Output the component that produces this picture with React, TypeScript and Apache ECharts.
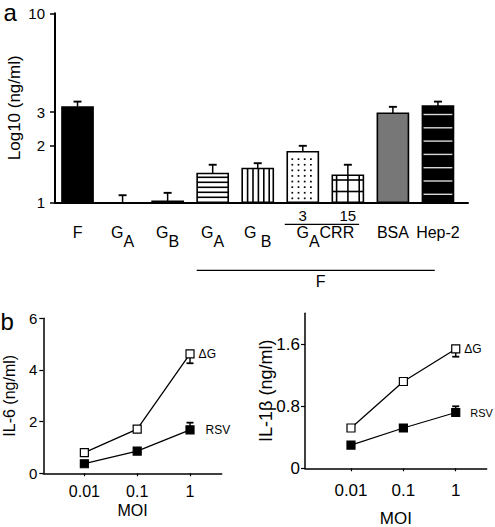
import React, { useEffect, useRef } from 'react';
import * as echarts from 'echarts';

// ---- Panel a data ----
const categories = ['F', 'GA', 'GB', 'F+GA', 'F+GB', 'F+GA CRR 3', 'F+GA CRR 15', 'BSA', 'Hep-2'];
const cytokineValues = [3.19, 1.0, 1.012, 1.42, 1.51, 1.85, 1.39, 2.96, 3.23];
const cytokineErrors = [0.22, 0.09, 0.11, 0.16, 0.1, 0.14, 0.19, 0.24, 0.18];
const logTicks = [1, 2, 3, 10];
const categoryLabels = ['F', 'G_A', 'G_B', 'G_A', 'G _B', 'G_ACRR', 'BSA', 'Hep-2'];
const categoryLabelPos = [0, 1, 2, 3, 4, 5.5, 7, 8];
const crrLabels = ['3', '15'];
const crrLabelPos = [5, 6];
const bracketStart = [4.6, 2.645];
const bracketEnd = [6.25, 7.93];
const bracketLabels = ['', 'F'];

// ---- Panel b data ----
const moi = [0.01, 0.1, 1];
const il6DeltaG = [0.8, 1.71, 4.62];
const il6DeltaGErr = [0, 0, 0.36];
const il6RSV = [0.37, 0.86, 1.68];
const il6RSVErr = [0, 0, 0.28];
const il1bDeltaG = [0.52, 1.12, 1.54];
const il1bDeltaGErr = [0, 0, 0.1];
const il1bRSV = [0.3, 0.52, 0.72];
const il1bRSVErr = [0, 0, 0.08];

const FONT = 'Liberation Sans, Arial, Helvetica, sans-serif';
const BAR_PATTERNS = ['solid', 'plain', 'plain', 'hstripe', 'vstripe', 'dots', 'grid', 'gray', 'blackstripe'];

const richFmt = (s: string) => {
  const parts = s.split('_');
  if (parts.length === 1) return `{g|${s}}`;
  const sub = parts[1][0];
  const rest = parts[1].slice(1);
  return `{g|${parts[0]}}{s|${sub}}` + (rest ? `{g|${rest}}` : '');
};

const fmtNum = (v: number) => String(Number(Number(v).toPrecision(6)));

function renderBar(params: any, api: any) {
  const i = api.value(0);
  const v = api.value(1);
  const top = api.coord([i, v]);
  const base = api.coord([i, 1]);
  const band = api.coord([i + 0.5, 1])[0] - api.coord([i - 0.5, 1])[0];
  const half = band * 0.345;
  const x0 = top[0] - half;
  const x1 = top[0] + half;
  const y0 = top[1];
  const y1 = base[1];
  const h = y1 - y0;
  if (h < 0.5) return { type: 'group', children: [] };
  const pattern = BAR_PATTERNS[params.dataIndex];
  const children: any[] = [];
  let fill = '#fff';
  if (pattern === 'solid' || pattern === 'blackstripe') fill = '#000';
  if (pattern === 'gray') fill = '#777';
  children.push({ type: 'rect', shape: { x: x0, y: y0, width: x1 - x0, height: h }, style: { fill } });
  const line = (ax: number, ay: number, bx: number, by: number, stroke = '#000', lw = 1.6) =>
    children.push({ type: 'line', shape: { x1: ax, y1: ay, x2: bx, y2: by }, style: { stroke, lineWidth: lw } });
  if (pattern === 'hstripe') {
    for (let y = y1 - 5; y > y0 + 2.5; y -= 5) line(x0, y, x1, y);
  } else if (pattern === 'vstripe') {
    for (let x = x0 + 5.4; x < x1 - 2.5; x += 5.4) line(x, y0, x, y1);
  } else if (pattern === 'dots') {
    for (let y = y1 - 4; y > y0 + 2; y -= 5.6) {
      for (let x = x0 + 5; x < x1 - 2; x += 6.2) {
        children.push({ type: 'rect', shape: { x: x - 0.8, y: y - 0.8, width: 1.7, height: 1.7 }, style: { fill: '#000' } });
      }
    }
  } else if (pattern === 'grid') {
    for (let x = x0 + 4.3; x < x1 - 2; x += 11.3) line(x, y0, x, y1);
    for (let y = y1 - 10.8; y > y0 + 2; y -= 11.5) line(x0, y, x1, y);
  } else if (pattern === 'blackstripe') {
    for (let y = y1 - 8; y > y0 + 4; y -= 13.3) line(x0 + 1, y, x1 - 1, y, '#d8d8d8', 1.4);
  }
  children.push({
    type: 'rect',
    shape: { x: x0, y: y0, width: x1 - x0, height: h },
    style: { fill: 'none', stroke: '#000', lineWidth: 1.6 },
  });
  return { type: 'group', children };
}

function renderErr(capHalf: number, lw: number) {
  return (params: any, api: any) => {
    const x = api.value(0);
    const p1 = api.coord([x, api.value(1)]);
    const p2 = api.coord([x, api.value(2)]);
    if (Math.abs(p1[1] - p2[1]) < 0.5) return { type: 'group', children: [] };
    return {
      type: 'group',
      children: [
        { type: 'line', shape: { x1: p1[0], y1: p1[1], x2: p2[0], y2: p2[1] }, style: { stroke: '#000', lineWidth: lw } },
        { type: 'line', shape: { x1: p2[0] - capHalf, y1: p2[1], x2: p2[0] + capHalf, y2: p2[1] }, style: { stroke: '#000', lineWidth: lw + 0.4 } },
      ],
    };
  };
}

const BRACKET_OFFSETS = [22, 68];

function renderBracket(params: any, api: any) {
  const a = api.coord([api.value(0), 1]);
  const b = api.coord([api.value(1), 1]);
  const y = a[1] + BRACKET_OFFSETS[params.dataIndex];
  const children: any[] = [
    { type: 'line', shape: { x1: a[0], y1: y, x2: b[0], y2: y }, style: { stroke: '#000', lineWidth: 1.3 } },
  ];
  const label = bracketLabels[params.dataIndex];
  if (label) {
    children.push({
      type: 'text',
      style: {
        text: label,
        x: (a[0] + b[0]) / 2 + 5,
        y: y + 11,
        align: 'center',
        verticalAlign: 'middle',
        fontSize: 16,
        fontFamily: FONT,
        fill: '#000',
      },
    });
  }
  return { type: 'group', children };
}

const lineSeries = (
  name: string,
  values: number[],
  xAxisIndex: number,
  yAxisIndex: number,
  filled: boolean,
  labelDistance: number,
  labelSize: number
) => ({
  type: 'line',
  name,
  xAxisIndex,
  yAxisIndex,
  z: 3,
  symbol: 'rect',
  symbolSize: 8,
  lineStyle: { color: '#000', width: 1.3 },
  itemStyle: { color: filled ? '#000' : '#fff', borderColor: '#000', borderWidth: 1.2 },
  data: moi.map((m, i) =>
    i === moi.length - 1
      ? {
          value: [m, values[i]],
          label: {
            show: true,
            formatter: name,
            position: 'right',
            distance: labelDistance,
            fontSize: labelSize,
            fontFamily: FONT,
            color: '#000',
          },
        }
      : [m, values[i]]
  ),
});

const errSeries = (values: number[], errs: number[], dir: number, xAxisIndex: number, yAxisIndex: number) => ({
  type: 'custom',
  xAxisIndex,
  yAxisIndex,
  z: 2,
  clip: false,
  renderItem: renderErr(3.5, 1.4),
  data: moi.map((m, i) => [m, values[i], values[i] + dir * errs[i]]),
});

const axisLineStyle = (w: number) => ({ show: true, onZero: false, lineStyle: { color: '#000', width: w } });

export default function App() {
  const ref = useRef<HTMLDivElement>(null);
  useEffect(() => {
    if (!ref.current) return;
    const chart = echarts.init(ref.current, null, { renderer: 'svg' });
    const option: any = {
      animation: false,
      backgroundColor: '#fff',
      textStyle: { fontFamily: FONT, color: '#000' },
      graphic: [
        { type: 'text', style: { text: 'a', x: 3.5, y: 12, verticalAlign: 'middle', fontSize: 24, fontFamily: FONT, fill: '#000' } },
        { type: 'text', style: { text: 'b', x: 0.5, y: 321.7, verticalAlign: 'middle', fontSize: 24, fontFamily: FONT, fill: '#000' } },
      ],
      grid: [
        { left: 55, top: 13.3, width: 413, height: 189, containLabel: false, outerBoundsMode: 'none' },
        { left: 43.3, top: 318.3, width: 178.4, height: 155, containLabel: false, outerBoundsMode: 'none' },
        { left: 305, top: 313.3, width: 181.7, height: 155, containLabel: false, outerBoundsMode: 'none' },
      ],
      xAxis: [
        {
          gridIndex: 0,
          type: 'value',
          min: -0.5,
          max: 8.667,
          axisLine: axisLineStyle(2),
          axisTick: { show: false },
          splitLine: { show: false },
          axisLabel: {
            customValues: categoryLabelPos,
            margin: 22,
            formatter: (v: number) => {
              const k = categoryLabelPos.findIndex((p) => Math.abs(p - v) < 1e-6);
              return k >= 0 ? richFmt(categoryLabels[k]) : '';
            },
            rich: {
              g: { fontSize: 16, lineHeight: 18, verticalAlign: 'top', fontFamily: FONT, color: '#000' },
              s: { fontSize: 16, lineHeight: 18, padding: [9, 0, 0, 0], verticalAlign: 'top', fontFamily: FONT, color: '#000' },
            },
          },
        },
        {
          gridIndex: 0,
          type: 'value',
          position: 'bottom',
          min: -0.5,
          max: 8.667,
          axisLine: { show: false, onZero: false },
          axisTick: { show: false },
          splitLine: { show: false },
          axisLabel: {
            customValues: crrLabelPos,
            margin: 6,
            fontSize: 15,
            color: '#000',
            formatter: (v: number) => {
              const k = crrLabelPos.findIndex((p) => Math.abs(p - v) < 1e-6);
              return k >= 0 ? crrLabels[k] : '';
            },
          },
        },
        {
          gridIndex: 1,
          type: 'log',
          logBase: 10,
          min: 0.00167,
          max: 3.98,
          name: 'MOI',
          nameLocation: 'middle',
          nameGap: 29,
          nameMoveOverlap: false,
          nameTextStyle: { fontSize: 16, color: '#000' },
          axisLine: axisLineStyle(1.5),
          axisTick: { show: true, customValues: moi, length: 3, lineStyle: { color: '#000', width: 1.2 } },
          splitLine: { show: false },
          minorTick: { show: false },
          axisLabel: { customValues: moi, margin: 10, fontSize: 16, color: '#000', formatter: fmtNum },
        },
        {
          gridIndex: 2,
          type: 'log',
          logBase: 10,
          min: 0.001324,
          max: 3.9,
          name: 'MOI',
          nameLocation: 'middle',
          nameGap: 42,
          nameMoveOverlap: false,
          nameTextStyle: { fontSize: 17, color: '#000' },
          axisLine: axisLineStyle(1.5),
          axisTick: { show: true, customValues: moi, length: 3, lineStyle: { color: '#000', width: 1.2 } },
          splitLine: { show: false },
          minorTick: { show: false },
          axisLabel: { customValues: moi, margin: 14, fontSize: 17, color: '#000', formatter: fmtNum },
        },
      ],
      yAxis: [
        {
          gridIndex: 0,
          type: 'log',
          logBase: 10,
          min: 1,
          max: 10,
          name: 'Log10 (ng/ml)',
          nameLocation: 'middle',
          nameGap: 32,
          nameMoveOverlap: false,
          nameTextStyle: { fontSize: 17, color: '#000' },
          axisLine: axisLineStyle(2),
          axisTick: { show: true, customValues: logTicks, length: 5, lineStyle: { color: '#000', width: 1.5 } },
          splitLine: { show: false },
          minorTick: { show: false },
          axisLabel: { customValues: logTicks, margin: 10, fontSize: 15, color: '#000', formatter: fmtNum },
        },
        {
          gridIndex: 1,
          type: 'value',
          min: 0,
          max: 6,
          interval: 2,
          name: 'IL-6 (ng/ml)',
          nameLocation: 'middle',
          nameGap: 26,
          nameMoveOverlap: false,
          nameTextStyle: { fontSize: 16, color: '#000' },
          axisLine: axisLineStyle(1.5),
          axisTick: { show: true, length: 4, lineStyle: { color: '#000', width: 1.2 } },
          splitLine: { show: false },
          axisLabel: { margin: 6, fontSize: 15, color: '#000' },
        },
        {
          gridIndex: 2,
          type: 'value',
          min: 0,
          max: 2,
          interval: 0.8,
          name: 'IL-1β (ng/ml)',
          nameLocation: 'middle',
          nameGap: 30,
          nameMoveOverlap: false,
          nameTextStyle: { fontSize: 18, color: '#000' },
          axisLine: axisLineStyle(1.5),
          axisTick: { show: true, length: 4, lineStyle: { color: '#000', width: 1.2 } },
          splitLine: { show: false },
          axisLabel: { margin: 5, fontSize: 17, color: '#000', showMaxLabel: false },
        },
      ],
      series: [
        {
          type: 'custom',
          name: 'bars',
          xAxisIndex: 0,
          yAxisIndex: 0,
          z: 2,
          clip: false,
          renderItem: renderBar,
          data: categories.map((c, i) => [i, cytokineValues[i]]),
        },
        {
          type: 'custom',
          name: 'errors',
          xAxisIndex: 0,
          yAxisIndex: 0,
          z: 3,
          clip: false,
          renderItem: renderErr(4, 1.5),
          data: categories.map((c, i) => [i, cytokineValues[i], cytokineValues[i] + cytokineErrors[i]]),
        },
        {
          type: 'custom',
          name: 'brackets',
          xAxisIndex: 0,
          yAxisIndex: 0,
          z: 3,
          clip: false,
          renderItem: renderBracket,
          data: bracketStart.map((s, i) => [s, bracketEnd[i]]),
        },
        errSeries(il6DeltaG, il6DeltaGErr, -1, 2, 1),
        errSeries(il6RSV, il6RSVErr, 1, 2, 1),
        errSeries(il1bDeltaG, il1bDeltaGErr, -1, 3, 2),
        errSeries(il1bRSV, il1bRSVErr, 1, 3, 2),
        lineSeries('ΔG', il6DeltaG, 2, 1, false, 4, 12),
        lineSeries('RSV', il6RSV, 2, 1, true, 11, 12),
        lineSeries('ΔG', il1bDeltaG, 3, 2, false, 4, 12),
        lineSeries('RSV', il1bRSV, 3, 2, true, 10, 11),
      ],
    };
    chart.setOption(option);
    return () => chart.dispose();
  }, []);
  return <div ref={ref} style={{ position: 'absolute', left: 0, top: 0, width: 495, height: 527 }} />;
}
